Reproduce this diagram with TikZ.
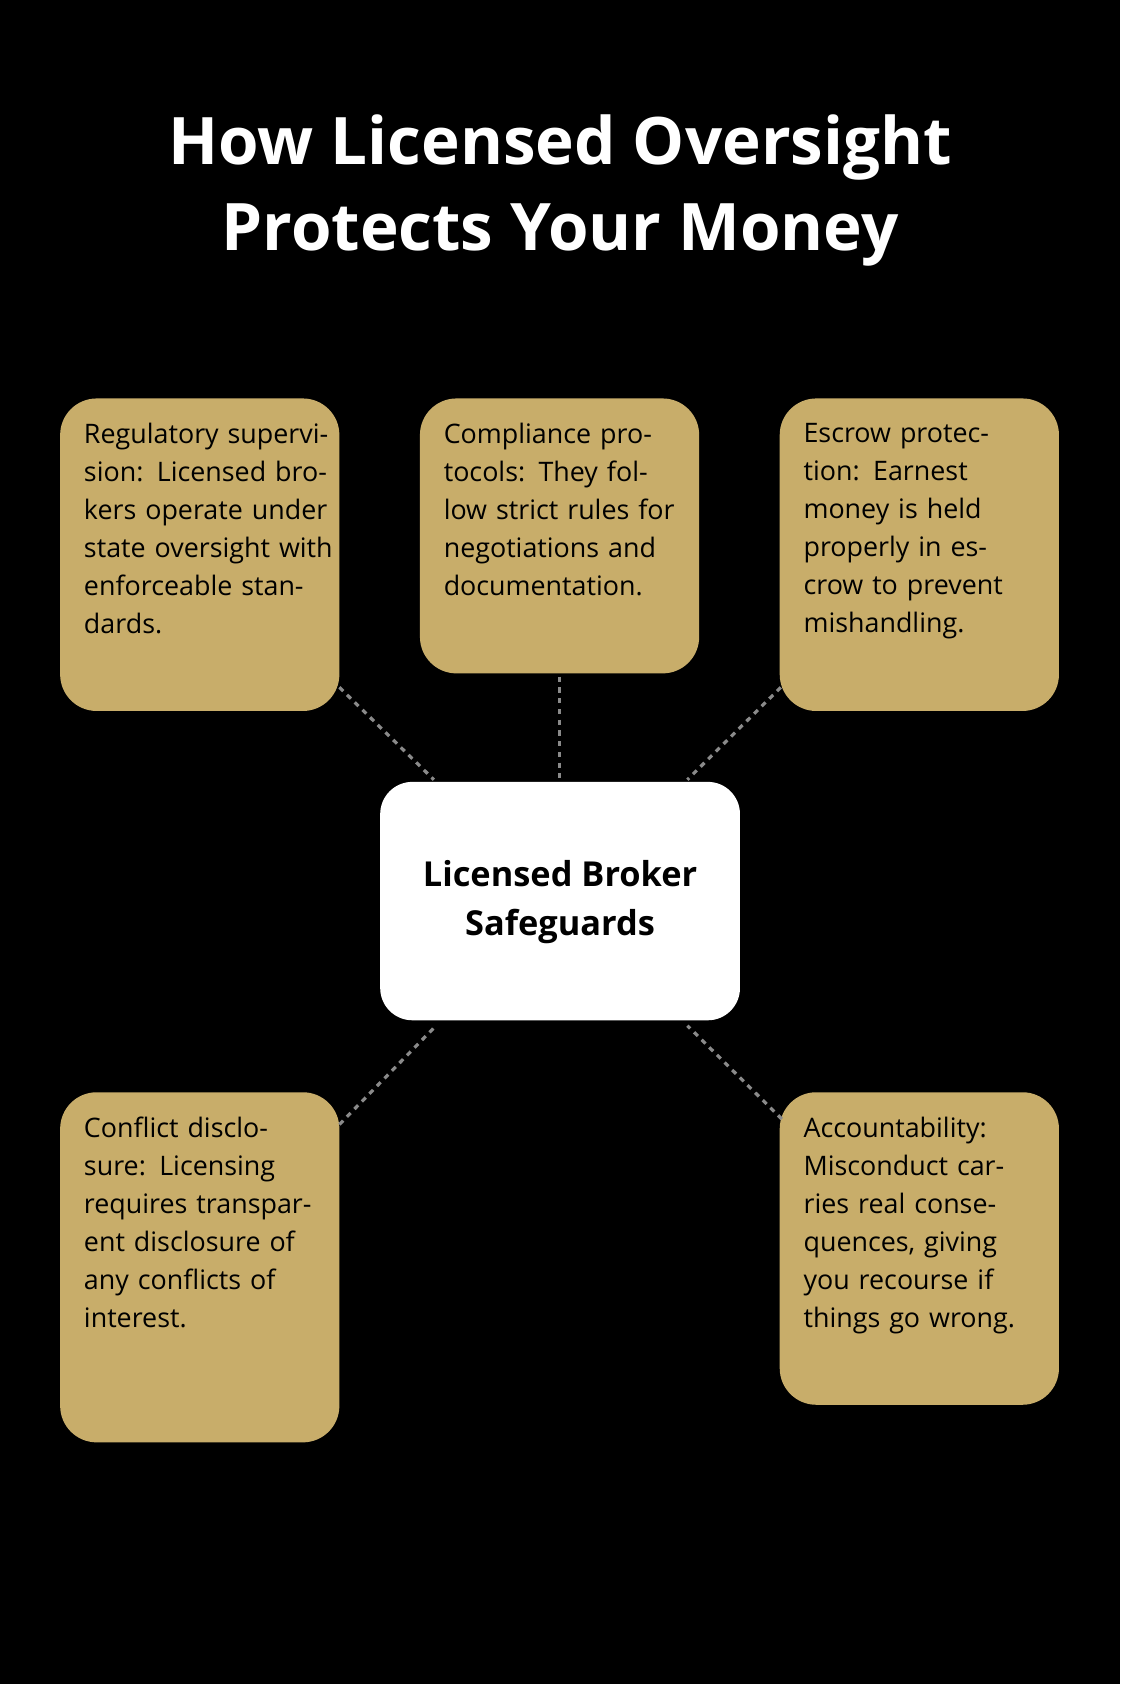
\documentclass[tikz,border=0pt]{standalone}
\usepackage{fontspec}
\setmainfont{Open Sans}
\definecolor{gold}{HTML}{C8AD6A}
\definecolor{dashc}{HTML}{8A8A8A}
\begin{document}
\begin{tikzpicture}[x=1pt,y=-1pt,
  card/.style={fill=gold,rounded corners=34pt},
  txt/.style={anchor=north west,text width=240pt,align=left,inner sep=0pt,font=\fontsize{25}{35.4}\selectfont,text=black},
  link/.style={draw=dashc,dashed,dash pattern=on 5pt off 5pt,line width=3pt}]
\fill[black] (0,0) rectangle (1043,1568);
\useasboundingbox (0,0) rectangle (1043,1568);
\node[text=white,font=\fontsize{61}{80}\selectfont\bfseries,align=center] (title) at (521.5,177) {How Licensed Oversight\\Protects Your Money};
\fill[card] (56,371) rectangle (316,662);
\fill[card] (391,371) rectangle (651,627);
\fill[card] (726,371) rectangle (986,662);
\fill[card] (56,1017) rectangle (316,1343);
\fill[card] (726,1017) rectangle (986,1308);
\fill[white,rounded corners=30pt] (354,728) rectangle (689,950);
\node[txt] (t1) at (78,394) {Regulatory supervision: Licensed brokers operate under state oversight with enforceable standards.};
\node[txt,text width=215pt] (t2) at (413,394) {Compliance protocols: They follow strict rules for negotiations and documentation.};
\node[txt,text width=215pt] (t3) at (748,394) {Escrow protection: Earnest money is held properly in escrow to prevent mishandling.};
\node[txt,text width=215pt] (t4) at (78,1040) {Conflict disclosure: Licensing requires transparent disclosure of any conflicts of interest.};
\node[txt,text width=220pt] (t5) at (748,1040) {Accountability: Misconduct carries real consequences, giving you recourse if things go wrong.};
\node[font=\fontsize{32}{45}\selectfont\bfseries,align=center] (c) at (521.5,840) {Licensed Broker\\Safeguards};
\coordinate (a1) at (316,640); \coordinate (b1) at (404,726);
\coordinate (a2) at (521,630); \coordinate (b2) at (521,724);
\coordinate (a3) at (727,640); \coordinate (b3) at (640,726);
\coordinate (a4) at (316,1047); \coordinate (b4) at (406,955);
\coordinate (a5) at (728,1042); \coordinate (b5) at (640,955);
\draw[link] (a1)--(b1); \draw[link] (a2)--(b2); \draw[link] (a3)--(b3);
\draw[link] (a4)--(b4); \draw[link] (a5)--(b5);
\end{tikzpicture}
\end{document}
